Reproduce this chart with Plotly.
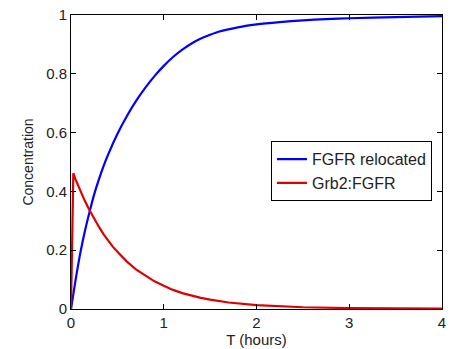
import plotly.graph_objects as go

# Data (time in hours)
t_blue = [0, 0.05, 0.1, 0.15, 0.2, 0.25, 0.3, 0.35, 0.4, 0.5, 0.6, 0.7, 0.8, 0.9, 1.0, 1.1, 1.2, 1.3, 1.4, 1.5, 1.6, 1.8, 2.0, 2.25, 2.5, 2.75, 3.0, 3.5, 4.0]
fgfr_relocated = [0, 0.10, 0.19, 0.265, 0.33, 0.39, 0.44, 0.485, 0.525, 0.595, 0.655, 0.707, 0.752, 0.792, 0.827, 0.857, 0.882, 0.903, 0.92, 0.933, 0.944, 0.958, 0.968, 0.976, 0.982, 0.986, 0.989, 0.993, 0.996]

t_red = [0, 0.025, 0.05, 0.1, 0.15, 0.2, 0.25, 0.3, 0.35, 0.4, 0.45, 0.5, 0.6, 0.7, 0.8, 0.9, 1.0, 1.1, 1.2, 1.3, 1.4, 1.5, 1.7, 2.0, 2.25, 2.5, 3.0, 3.5, 4.0]
grb2_fgfr = [0, 0.462, 0.44, 0.40, 0.367, 0.336, 0.306, 0.280, 0.255, 0.232, 0.212, 0.195, 0.162, 0.135, 0.113, 0.094, 0.079, 0.065, 0.054, 0.045, 0.038, 0.032, 0.022, 0.013, 0.009, 0.006, 0.003, 0.0015, 0.001]

x_ticks = [0, 1, 2, 3, 4]
y_ticks = [0, 0.2, 0.4, 0.6, 0.8, 1]
y_ticklabels = ["0", "0.2", "0.4", "0.6", "0.8", "1"]

fig = go.Figure()
fig.add_trace(go.Scatter(x=t_blue, y=fgfr_relocated, mode="lines", name="FGFR relocated",
                         line=dict(color="#0000ff", width=2.2, shape="spline", smoothing=0.6)))
fig.add_trace(go.Scatter(x=t_red, y=grb2_fgfr, mode="lines", name="Grb2:FGFR",
                         line=dict(color="#e00000", width=2.2)))

font_family = "Liberation Sans, Arial, sans-serif"
axis_common = dict(showgrid=False, zeroline=False, showline=True, linecolor="black", linewidth=1,
                   mirror="ticks", ticks="inside", ticklen=5, tickcolor="black", tickwidth=1,
                   tickfont=dict(family=font_family, size=15, color="#222"))

fig.update_layout(
    width=452, height=349,
    margin=dict(l=71, r=6, t=14, b=40),
    paper_bgcolor="white", plot_bgcolor="white",
    font=dict(family=font_family, color="#222"),
    xaxis=dict(range=[0, 4], tickvals=x_ticks, ticktext=[str(v) for v in x_ticks],
               title=dict(text="T (hours)", font=dict(size=15), standoff=1), **axis_common),
    yaxis=dict(range=[0, 1], tickvals=y_ticks, ticktext=y_ticklabels,
               title=dict(text="Concentration", font=dict(size=14), standoff=9), **axis_common),
    legend=dict(x=0.539, y=0.571, xanchor="left", yanchor="top",
                bordercolor="black", borderwidth=1, bgcolor="white",
                font=dict(family=font_family, size=16, color="#222"),
                tracegroupgap=0, itemwidth=30),
    showlegend=True,
)

fig.write_html("out.html")
